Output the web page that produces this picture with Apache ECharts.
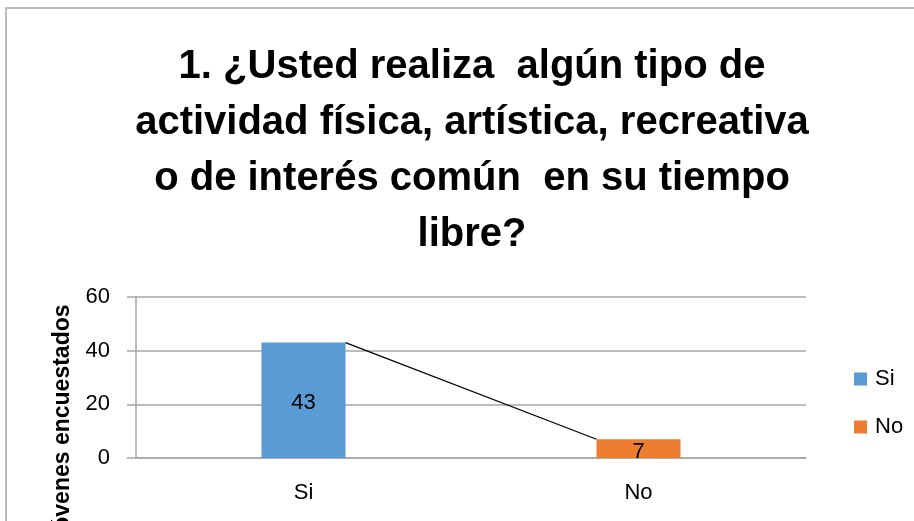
<!DOCTYPE html>
<html>
<head>
<meta charset="utf-8">
<script src="https://cdn.jsdelivr.net/npm/echarts@6/dist/echarts.min.js"></script>
<style>
  html, body { margin: 0; padding: 0; background: #fff; }
  #chart { width: 914px; height: 521px; }
</style>
</head>
<body>
<div id="chart"></div>
<script>
// datos
const categories = ['Si', 'No'];
const siValues = [43, '-'];
const noValues = ['-', 7];
const yTicks = { min: 0, max: 60, interval: 20 };

const titleText = '1. ¿Usted realiza  algún tipo de\nactividad física, artística, recreativa\no de interés común  en su tiempo\nlibre?';
const axisTitle = 'Jóvenes encuestados';

const barWidth = 84;
const labelFont = 'Liberation Sans';

// total de cada columna, para la linea que une las columnas
const totals = categories.map((c, i) =>
  [siValues[i], noValues[i]].reduce((s, v) => s + (v === '-' ? 0 : v), 0));
const seriesLineData = [];
for (let i = 0; i < categories.length - 1; i++) {
  seriesLineData.push([i, totals[i], totals[i + 1]]);
}

const chart = echarts.init(document.getElementById('chart'));
chart.setOption({
  animation: false,
  title: {
    text: titleText,
    left: 467,
    top: 34,
    textAlign: 'center',
    textStyle: {
      fontFamily: labelFont,
      fontWeight: 'bold',
      fontSize: 40,
      lineHeight: 56,
      color: '#000',
    },
  },
  graphic: [
    {
      type: 'rect',
      shape: { x: 6, y: 8, width: 960, height: 600 },
      style: { fill: 'none', stroke: '#a6a6a6', lineWidth: 1.5 },
      z: -1,
    },
    {
      type: 'text',
      x: 63,
      y: 424,
      rotation: Math.PI / 2,
      style: {
        text: axisTitle,
        fontFamily: labelFont,
        fontWeight: 'bold',
        fontSize: 23,
        fill: '#000',
        align: 'center',
        verticalAlign: 'middle',
      },
    },
  ],
  legend: {
    orient: 'vertical',
    left: 849,
    top: 363,
    itemWidth: 13,
    itemHeight: 13,
    itemGap: 26,
    icon: 'rect',
    data: categories,
    textStyle: { fontFamily: labelFont, fontSize: 22, color: '#000', padding: [0, 0, 0, 3] },
  },
  grid: { left: 136, right: 108, top: 297, bottom: 63 },
  xAxis: {
    type: 'category',
    data: categories,
    axisTick: { show: false },
    axisLine: { lineStyle: { color: '#a6a6a6', width: 1.5 } },
    axisLabel: { fontFamily: labelFont, fontSize: 22, color: '#000', margin: 24 },
  },
  yAxis: {
    type: 'value',
    min: yTicks.min,
    max: yTicks.max,
    interval: yTicks.interval,
    axisLine: { show: true, lineStyle: { color: '#a6a6a6', width: 1.5 } },
    axisTick: { show: true, length: 9, lineStyle: { color: '#a6a6a6', width: 1.5 } },
    splitLine: { lineStyle: { color: '#a6a6a6', width: 1.5 } },
    axisLabel: { fontFamily: labelFont, fontSize: 22, color: '#000', margin: 26 },
  },
  series: [
    {
      name: 'Si',
      type: 'bar',
      stack: 'total',
      barWidth: barWidth,
      itemStyle: { color: '#5b9bd5' },
      label: { show: true, position: 'inside', fontFamily: labelFont, fontSize: 22, color: '#000', offset: [0, 3] },
      data: siValues,
    },
    {
      name: 'No',
      type: 'bar',
      stack: 'total',
      barWidth: barWidth,
      itemStyle: { color: '#ed7d31' },
      label: { show: true, position: 'inside', fontFamily: labelFont, fontSize: 22, color: '#000', offset: [0, 3] },
      data: noValues,
    },
    {
      // linea de serie entre columnas (de borde a borde)
      type: 'custom',
      silent: true,
      z: 3,
      encode: { x: 0, y: 1 },
      renderItem: function (params, api) {
        const i = api.value(0);
        const p0 = api.coord([i, api.value(1)]);
        const p1 = api.coord([i + 1, api.value(2)]);
        return {
          type: 'line',
          shape: { x1: p0[0] + barWidth / 2, y1: p0[1], x2: p1[0] - barWidth / 2, y2: p1[1] },
          style: { stroke: '#000', lineWidth: 1.2 },
        };
      },
      data: seriesLineData,
    },
  ],
});
</script>
</body>
</html>
